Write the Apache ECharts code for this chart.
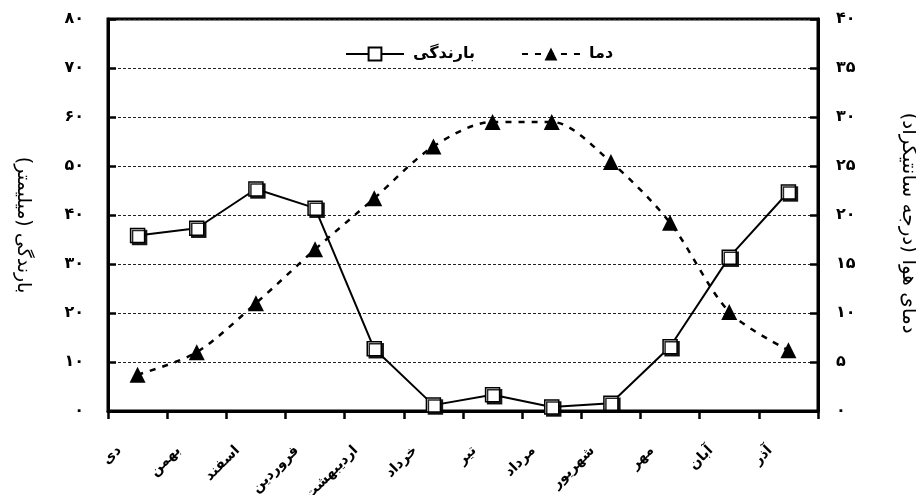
<!DOCTYPE html>
<html>
<head>
<meta charset="utf-8">
<script src="https://cdn.jsdelivr.net/npm/echarts@6/dist/echarts.min.js"></script>
<style>html,body{margin:0;padding:0;background:#fff}#c{width:916px;height:495px}</style>
</head>
<body>
<div id="c"></div>
<script>
const categories = ['دی','بهمن','اسفند','فروردین','اردیبهشت','خرداد','تیر','مرداد','شهریور','مهر','آبان','آذر'];
const rainfall = [35.8, 37.3, 45.3, 41.4, 12.7, 1.2, 3.3, 0.8, 1.6, 13.1, 31.4, 44.7];
const temperature = [3.7, 6.0, 11.0, 16.5, 21.7, 27.0, 29.5, 29.5, 25.4, 19.2, 10.1, 6.2];
const rainName = 'بارندگی';
const tempName = 'دما';
const leftTitle = 'بارندگی (میلیمتر)';
const rightTitle = 'دمای هوا (درجه سانتیگراد)';

const fa = v => String(v).replace(/\d/g, d => '۰۱۲۳۴۵۶۷۸۹'[d]);
const FONT = 'DejaVu Sans';
const chart = echarts.init(document.getElementById('c'), null, {renderer: 'canvas'});
chart.setOption({
  animation: false,
  backgroundColor: '#fff',
  textStyle: {fontFamily: FONT},
  grid: {left: 108, right: 98, top: 19, bottom: 84, show: true, borderColor: '#000', borderWidth: 3, containLabel: false, outerBoundsMode: 'none'},
  legend: {
    left: 340, top: 41, itemWidth: 58, itemHeight: 16, itemGap: 46,
    textStyle: {fontFamily: FONT, fontWeight: 'bold', fontSize: 16, color: '#000', padding: [0, 0, 0, 4]},
    data: [rainName, tempName]
  },
  xAxis: {
    type: 'category', data: categories, boundaryGap: true,
    axisLine: {lineStyle: {color: '#000', width: 3}},
    axisTick: {show: true, inside: false, length: 8, lineStyle: {color: '#000', width: 2.5}},
    axisLabel: {rotate: 45, margin: 19, padding: [0, 26, 0, 0], fontFamily: FONT, fontWeight: 'bold', fontSize: 14, color: '#000', interval: 0},
    splitLine: {show: false}
  },
  yAxis: [{
    type: 'value', min: 0, max: 80, interval: 10, position: 'left',
    name: leftTitle, nameLocation: 'middle', nameRotate: -90, nameGap: 76,
    nameTextStyle: {fontFamily: FONT, fontSize: 19, color: '#000', padding: [0, 0, 0, 20]},
    axisLine: {show: true, lineStyle: {color: '#000', width: 3}},
    axisTick: {show: true, inside: true, length: 8, lineStyle: {color: '#000', width: 2.5}},
    axisLabel: {margin: 24, formatter: fa, fontFamily: FONT, fontWeight: 'bold', fontSize: 16, color: '#000'},
    splitLine: {show: true, lineStyle: {color: '#222', width: 1, type: [3, 2]}}
  }, {
    type: 'value', min: 0, max: 40, interval: 5, position: 'right',
    name: rightTitle, nameLocation: 'middle', nameRotate: -90, nameGap: 80,
    nameTextStyle: {fontFamily: FONT, fontSize: 20, color: '#000', padding: [0, 0, 0, 16]},
    axisLine: {show: true, lineStyle: {color: '#000', width: 3}},
    axisTick: {show: true, inside: true, length: 8, lineStyle: {color: '#000', width: 2.5}},
    axisLabel: {margin: 18, formatter: fa, fontFamily: FONT, fontWeight: 'bold', fontSize: 16, color: '#000'},
    splitLine: {show: false}
  }],
  series: [{
    name: rainName, type: 'line', yAxisIndex: 0, data: rainfall,
    symbol: 'rect', symbolSize: 14, showAllSymbol: true,
    lineStyle: {color: '#000', width: 2},
    itemStyle: {color: '#fff', borderColor: '#000', borderWidth: 1.5, shadowColor: 'rgba(0,0,0,0.85)', shadowOffsetX: 2, shadowOffsetY: 2, shadowBlur: 0},
    z: 3
  }, {
    name: tempName, type: 'line', yAxisIndex: 1, data: temperature, smooth: 0.3,
    symbol: 'triangle', symbolSize: 16, showAllSymbol: true,
    lineStyle: {color: '#000', width: 2.5, type: [6, 7]},
    itemStyle: {color: '#000', borderColor: '#000', borderWidth: 0},
    z: 2
  }]
});
</script>
</body>
</html>
